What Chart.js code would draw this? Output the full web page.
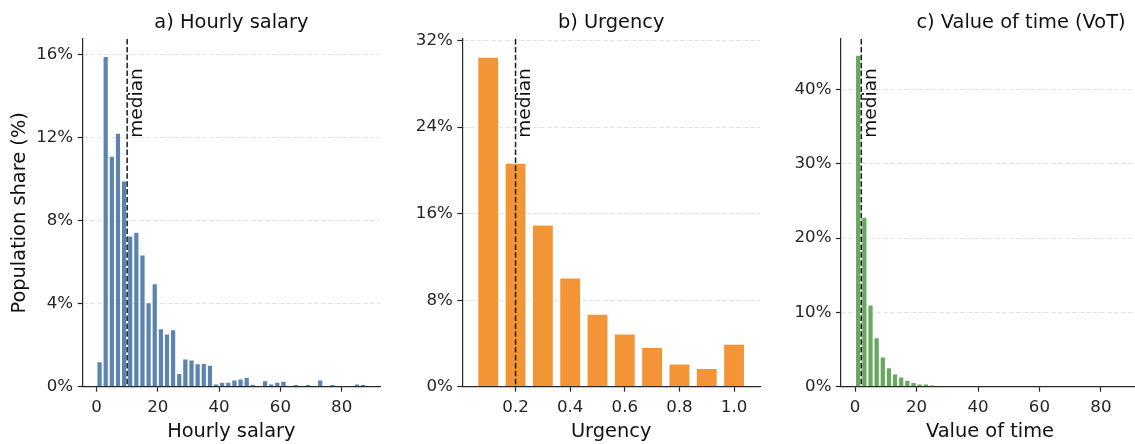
<!DOCTYPE html>
<html>
<head>
<meta charset="utf-8">
<script src="https://cdn.jsdelivr.net/npm/chart.js@4.4.1/dist/chart.umd.min.js"></script>
<style>
  html, body { margin: 0; padding: 0; background: #fff; overflow: hidden; width: 1135px; height: 444px; }
  canvas { position: absolute; top: 0; }
</style>
</head>
<body>
<canvas id="salary" width="400" height="444" style="left:0px"></canvas>
<canvas id="urgency" width="390" height="444" style="left:390px"></canvas>
<canvas id="vot" width="370" height="444" style="left:770px"></canvas>
<script>
// ---- a) Hourly salary: histogram bin centres and population share (%) ----
const salaryBins = [1, 3, 5, 7, 9, 11, 13, 15, 17, 19, 21, 23, 25, 27, 29, 31, 33, 35, 37, 39, 41, 43,
                    45, 47, 49, 51, 53, 55, 57, 59, 61, 63, 65, 67, 69, 71, 73, 75, 77, 79, 81, 83, 85, 87];
const salaryShare = [1.2, 15.9, 11.1, 12.2, 9.9, 7.25, 7.43, 6.34, 4.04, 4.96, 2.79, 2.54, 2.74, 0.64,
                     1.33, 1.28, 1.1, 1.12, 1.03, 0.13, 0.22, 0.22, 0.32, 0.37, 0.45, 0.12, 0.04, 0.29,
                     0.13, 0.21, 0.26, 0, 0.1, 0, 0.1, 0, 0.32, 0, 0.1, 0, 0, 0, 0.13, 0.1];
const salaryMedian = 10;
const salaryTicksX = [0, 20, 40, 60, 80];
const salaryTicksY = [0, 4, 8, 12, 16];

// ---- b) Urgency ----
const urgencyBins = [0.1, 0.2, 0.3, 0.4, 0.5, 0.6, 0.7, 0.8, 0.9, 1.0];
const urgencyShare = [30.5, 20.7, 15.0, 10.1, 6.74, 4.92, 3.66, 2.15, 1.72, 3.97];
const urgencyMedian = 0.2;
const urgencyTicksX = [0.2, 0.4, 0.6, 0.8, 1.0];
const urgencyTicksY = [0, 8, 16, 24, 32];

// ---- c) Value of time (VoT) ----
const votBins = [1, 3, 5, 7, 9, 11, 13, 15, 17, 19, 21, 23, 25, 27, 29];
const votShare = [44.6, 22.8, 11.0, 6.6, 4.0, 2.55, 1.7, 1.3, 0.86, 0.55, 0.36, 0.36, 0.22, 0.1, 0.1];
const votMedian = 2;
const votTicksX = [0, 20, 40, 60, 80];
const votTicksY = [0, 10, 20, 30, 40];

const FONT = 'DejaVu Sans';
const INK = '#262626';

// Median marker, panel title and axis titles
const annotate = {
  id: 'annotate',
  afterDatasetsDraw(chart, args, o) {
    const { ctx, chartArea: a, scales: { x } } = chart;
    const mx = x.getPixelForValue(o.median);
    ctx.save();
    ctx.strokeStyle = '#1a1a1a';
    ctx.lineWidth = 1.5;
    ctx.setLineDash([5.5, 2.4]);
    ctx.beginPath();
    ctx.moveTo(mx, a.top);
    ctx.lineTo(mx, a.bottom);
    ctx.stroke();
    ctx.setLineDash([]);
    ctx.fillStyle = '#111';
    ctx.font = `18.5px "${FONT}"`;
    ctx.translate(mx + 14.5, a.top + 29.3);
    ctx.rotate(-Math.PI / 2);
    ctx.textAlign = 'right';
    ctx.textBaseline = 'alphabetic';
    ctx.fillText('median', 0, 0);
    ctx.restore();
  },
  afterDraw(chart, args, o) {
    const { ctx, chartArea: a } = chart;
    const cx = (a.left + a.right) / 2;
    ctx.save();
    ctx.fillStyle = '#111';
    ctx.font = `19.4px "${FONT}"`;
    ctx.textAlign = 'center';
    ctx.textBaseline = 'alphabetic';
    ctx.fillText(o.title, cx + (o.titleShift || 0), 27.5);
    ctx.fillText(o.xTitle, cx, 436.5);
    if (o.yTitle) {
      ctx.translate(24.8, (a.top + a.bottom) / 2);
      ctx.rotate(-Math.PI / 2);
      ctx.fillText(o.yTitle, 0, 0);
    }
    ctx.restore();
  }
};

function histPanel(id, cfg) {
  return new Chart(document.getElementById(id), {
    type: 'bar',
    data: {
      datasets: [{
        data: cfg.bins.map((b, i) => ({ x: b, y: cfg.values[i] })),
        backgroundColor: cfg.color,
        borderColor: 'rgba(255,255,255,0.7)',
        borderWidth: cfg.edge,
        borderSkipped: 'bottom',
        categoryPercentage: 1,
        barPercentage: cfg.barFrac
      }]
    },
    options: {
      responsive: false,
      animation: false,
      devicePixelRatio: 1,
      layout: { padding: cfg.padding },
      plugins: {
        legend: { display: false },
        tooltip: { enabled: false },
        annotate: { median: cfg.median, title: cfg.title, xTitle: cfg.xTitle, yTitle: cfg.yTitle, titleShift: cfg.titleShift }
      },
      scales: {
        x: {
          type: 'linear',
          offset: false,
          min: cfg.xMin,
          max: cfg.xMax,
          afterBuildTicks: s => { s.ticks = cfg.xTicks.map(v => ({ value: v })); },
          afterFit: s => { s.height = 50; },
          ticks: {
            autoSkip: false, maxRotation: 0, padding: 6, color: INK,
            font: { family: FONT, size: 16.67 },
            callback: cfg.xFormat
          },
          grid: {
            drawOnChartArea: false, offset: false, drawTicks: true,
            tickLength: 5, tickWidth: 1.2, tickColor: INK
          },
          border: { display: true, color: INK, width: 1.2 }
        },
        y: {
          min: 0,
          max: cfg.yMax,
          afterBuildTicks: s => { s.ticks = cfg.yTicks.map(v => ({ value: v })); },
          afterFit: s => { s.width = 70; },
          ticks: {
            padding: 4.5, color: INK,
            font: { family: FONT, size: 16.67 },
            callback: v => v + '%'
          },
          grid: {
            color: c => (c.tick && c.tick.value === 0) ? 'rgba(0,0,0,0)' : '#e2e2e2',
            lineWidth: 1,
            drawTicks: true,
            tickLength: 5, tickWidth: 1.2, tickColor: INK, tickBorderDash: []
          },
          border: { display: true, color: INK, width: 1.2, dash: [4.5, 2.5] }
        }
      }
    },
    plugins: [annotate]
  });
}

histPanel('salary', {
  bins: salaryBins, values: salaryShare, median: salaryMedian,
  xTicks: salaryTicksX, yTicks: salaryTicksY, xMin: -4.5, xMax: 92.5, yMax: 16.74,
  xFormat: v => String(v),
  color: 'rgba(78,121,167,0.92)', edge: 0.5, barFrac: 0.86,
  title: 'a) Hourly salary', xTitle: 'Hourly salary', yTitle: 'Population share (%)',
  padding: { left: 12.7, right: 20, top: 39, bottom: 7.3 }
});

histPanel('urgency', {
  bins: urgencyBins, values: urgencyShare, median: urgencyMedian,
  xTicks: urgencyTicksX, yTicks: urgencyTicksY, xMin: 0.005, xMax: 1.095, yMax: 32.15,
  xFormat: v => v.toFixed(1),
  color: 'rgba(242,142,43,0.95)', edge: 1, barFrac: 0.8,
  title: 'b) Urgency', xTitle: 'Urgency',
  padding: { left: 2.3, right: 20, top: 39, bottom: 7.3 }
});

histPanel('vot', {
  bins: votBins, values: votShare, median: votMedian,
  xTicks: votTicksX, yTicks: votTicksY, xMin: -4.6, xMax: 92.4, yMax: 46.8,
  xFormat: v => String(v),
  color: 'rgba(89,161,79,0.92)', edge: 0.5, barFrac: 0.86,
  title: 'c) Value of time (VoT)', xTitle: 'Value of time', titleShift: 31,
  padding: { left: 1, right: 1, top: 39, bottom: 7.3 }
});
</script>
</body>
</html>
